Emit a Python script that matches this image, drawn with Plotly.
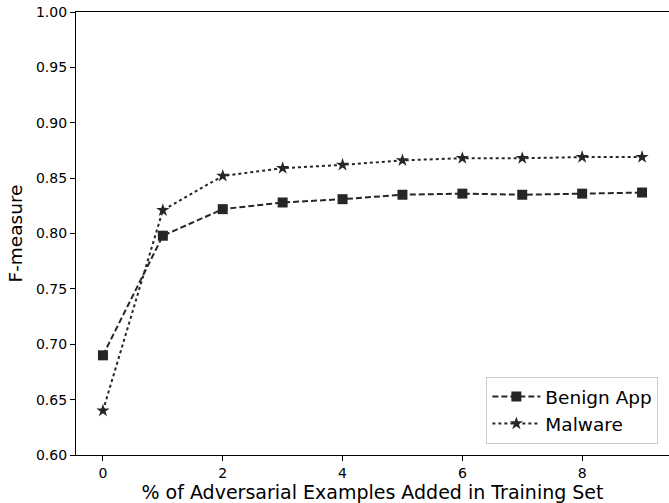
import plotly.graph_objects as go

x_vals = [0, 1, 2, 3, 4, 5, 6, 7, 8, 9]
benign = [0.690, 0.798, 0.822, 0.828, 0.831, 0.835, 0.836, 0.835, 0.836, 0.837]
malware = [0.640, 0.821, 0.852, 0.859, 0.862, 0.866, 0.868, 0.868, 0.869, 0.869]
y_ticks = [0.60, 0.65, 0.70, 0.75, 0.80, 0.85, 0.90, 0.95, 1.00]
x_ticks = [0, 2, 4, 6, 8]

line_color = "#262626"
font_family = "DejaVu Sans"

fig = go.Figure()
fig.add_trace(go.Scatter(
    x=x_vals, y=benign, name="Benign App", mode="lines+markers",
    line=dict(color=line_color, width=2, dash="6px,3px"),
    marker=dict(symbol="square", size=10, color=line_color),
))
fig.add_trace(go.Scatter(
    x=x_vals, y=malware, name="Malware", mode="lines+markers",
    line=dict(color=line_color, width=2, dash="dot"),
    marker=dict(symbol="star", size=10, color=line_color),
))

fig.update_layout(
    width=669, height=503,
    margin=dict(l=76, r=0, t=12, b=48, autoexpand=False),
    plot_bgcolor="white", paper_bgcolor="white",
    font=dict(family=font_family, color="black", size=14),
    showlegend=True,
    legend=dict(
        x=0.692, y=0.025, xanchor="left", yanchor="bottom",
        bgcolor="rgba(255,255,255,0.8)", bordercolor="#cccccc", borderwidth=1,
        font=dict(size=18.5, family=font_family),
        tracegroupgap=0, itemwidth=48, entrywidth=160,
    ),
    xaxis=dict(
        range=[-0.45, 9.45], tickmode="array", tickvals=x_ticks,
        ticktext=[str(v) for v in x_ticks],
        showgrid=False, zeroline=False, automargin=False,
        showline=True, linecolor="black", linewidth=1.3, mirror=True,
        ticks="outside", ticklen=5, tickcolor="black", tickwidth=1,
        tickfont=dict(size=14),
        title=dict(text="% of Adversarial Examples Added in Training Set",
                   font=dict(size=19), standoff=3),
    ),
    yaxis=dict(
        range=[0.60, 1.00], tickmode="array", tickvals=y_ticks,
        ticktext=[f"{v:.2f}" for v in y_ticks],
        showgrid=False, zeroline=False, automargin=False,
        showline=True, linecolor="black", linewidth=1.3,
        ticks="outside", ticklen=5, tickcolor="black", tickwidth=1,
        tickfont=dict(size=14),
        title=dict(text="F-measure", font=dict(size=18.5), standoff=8),
    ),
)

fig.write_html(
    "out.html",
    config={"displayModeBar": False},
    post_script="document.body.style.margin='0';document.body.style.overflow='hidden';",
)
